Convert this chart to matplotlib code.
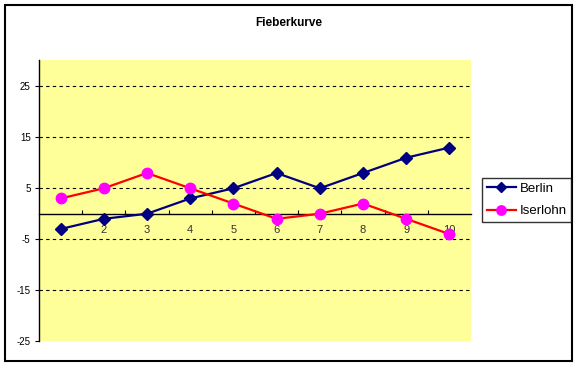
import matplotlib
matplotlib.use("Agg")
import matplotlib.pyplot as plt
from matplotlib.patches import Rectangle

categories = [1, 2, 3, 4, 5, 6, 7, 8, 9, 10]
berlin = [-3, -1, 0, 3, 5, 8, 5, 8, 11, 13]
iserlohn = [3, 5, 8, 5, 2, -1, 0, 2, -1, -4]
yticks = [-25, -15, -5, 5, 15, 25]
title = "Fieberkurve"

plt.rcParams['font.family'] = ['Liberation Sans', 'DejaVu Sans']

W, H = 578, 366
fig = plt.figure(figsize=(W / 100, H / 100), dpi=100)
fig.patch.set_facecolor('white')

# outer chart border
fig.add_artist(Rectangle((5 / W, 1 - 361 / H), 567 / W, 356 / H,
                         transform=fig.transFigure, fill=False,
                         edgecolor='black', linewidth=1.5))

ax = fig.add_axes([39 / W, 1 - 341 / H, 432 / W, 281 / H])
ax.set_facecolor('#FFFF99')
ax.set_xlim(0.5, 10.5)
ax.set_ylim(-25, 30.2)

for s in ['top', 'right']:
    ax.spines[s].set_visible(False)
ax.spines['bottom'].set_position(('data', 0))
ax.spines['bottom'].set_linewidth(1.0)
ax.spines['left'].set_linewidth(1.0)

for g in yticks:
    if g > -25:
        ax.axhline(g, color='black', linestyle=(0, (3, 3)), linewidth=0.8, zorder=1)

ax.set_yticks(yticks)
ax.set_yticklabels([str(v) for v in yticks])
ax.tick_params(axis='y', direction='out', length=3, width=0.8, labelsize=7, pad=3)

ax.set_xticks(categories)
ax.set_xticklabels([str(c) for c in categories])
ax.set_xticks([c + 0.5 for c in categories[:-1]], minor=True)
ax.tick_params(axis='x', which='major', length=0, labelsize=8, pad=8, labelcolor='#333333')
ax.tick_params(axis='x', which='minor', direction='in', length=3, width=0.8)

ax.plot(categories, berlin, color='#000080', linewidth=1.6, marker='D',
        markersize=6, markerfacecolor='#000080', markeredgecolor='#000080',
        label='Berlin', zorder=3, clip_on=False)
ax.plot(categories, iserlohn, color='#FF0000', linewidth=1.6, marker='o',
        markersize=7.5, markerfacecolor='#FF00FF', markeredgecolor='#FF00FF',
        label='Iserlohn', zorder=3, clip_on=False)

fig.text(289 / W, 1 - 23 / H, title, ha='center', va='center',
         fontsize=8.5, fontweight='bold')

leg = fig.legend(loc='center left', bbox_to_anchor=(482 / W, 1 - 200 / H),
                 bbox_transform=fig.transFigure, frameon=True, fancybox=False,
                 edgecolor='black', fontsize=9.5, handlelength=2.2,
                 handletextpad=0.3, borderpad=0.35, labelspacing=0.75,
                 borderaxespad=0, markerscale=0.9)
leg.get_frame().set_linewidth(1.0)

fig.savefig('out.png', dpi=100)
